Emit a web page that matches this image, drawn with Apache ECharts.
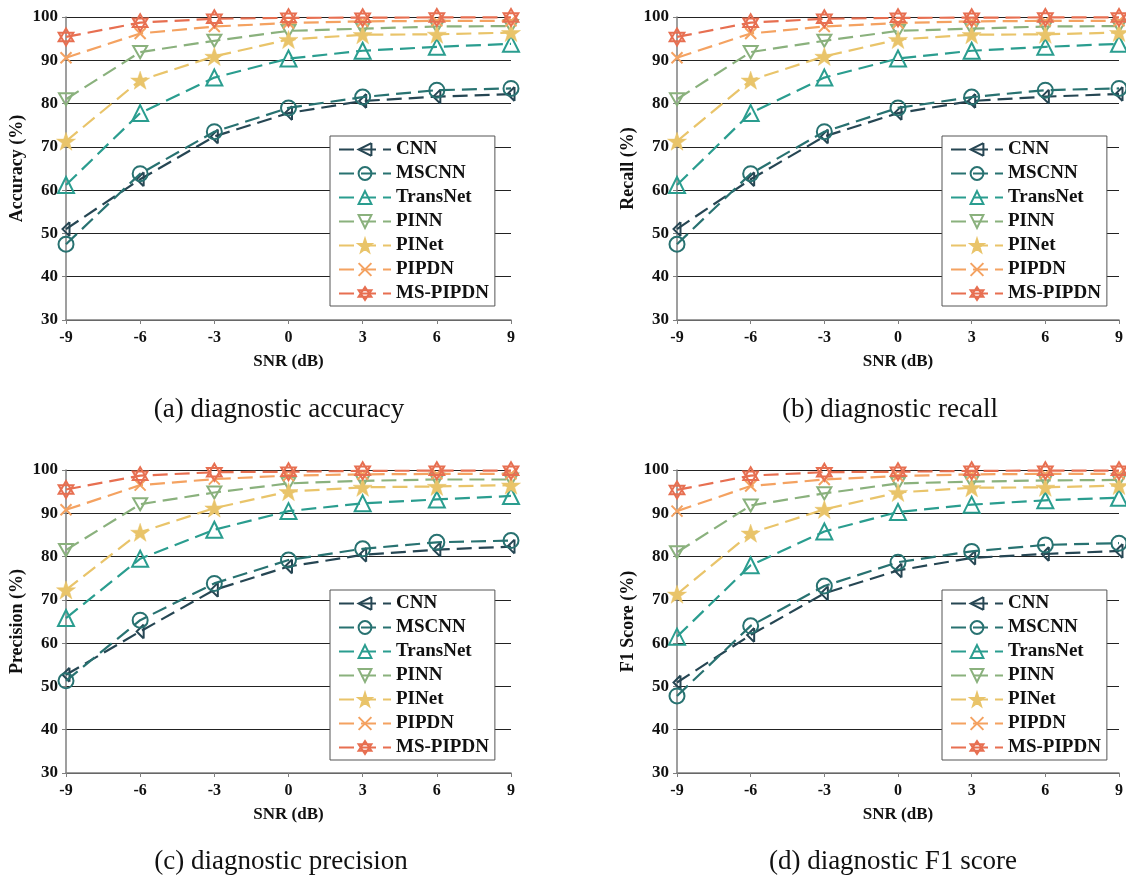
<!DOCTYPE html>
<html>
<head>
<meta charset="utf-8">
<script src="https://cdn.jsdelivr.net/npm/echarts@6/dist/echarts.min.js"></script>
<style>
  html, body { margin: 0; padding: 0; background: #fff; }
  #chart { width: 1126px; height: 879px; }
</style>
</head>
<body>
<div id="chart"></div>
<script>
// SNR levels (dB) on the x axis
const snrLevels = [-9, -6, -3, 0, 3, 6, 9];
const yTicks = [30, 40, 50, 60, 70, 80, 90, 100];
const modelNames = ['CNN', 'MSCNN', 'TransNet', 'PINN', 'PINet', 'PIPDN', 'MS-PIPDN'];
const modelColors = ['#264653', '#287271', '#2a9d8f', '#8ab17d', '#e9c46a', '#f4a261', '#e76f51'];

// Metric values (%) per model, ordered as modelNames, one entry per SNR level
const accuracy = [
  [51.0, 62.5, 72.4, 77.8, 80.6, 81.6, 82.2],
  [47.5, 63.8, 73.5, 79.0, 81.5, 83.1, 83.5],
  [61.2, 77.8, 86.0, 90.4, 92.2, 93.1, 93.8],
  [81.0, 91.9, 94.5, 96.8, 97.3, 97.8, 97.9],
  [71.3, 85.4, 90.9, 94.8, 95.9, 96.0, 96.4],
  [90.6, 96.2, 97.8, 98.6, 99.0, 99.1, 99.1],
  [95.4, 98.7, 99.6, 99.8, 99.85, 99.9, 99.9]
];
const recall = [
  [51.0, 62.5, 72.4, 77.8, 80.6, 81.6, 82.2],
  [47.5, 63.8, 73.5, 79.0, 81.5, 83.1, 83.5],
  [61.2, 77.8, 86.0, 90.4, 92.2, 93.1, 93.8],
  [81.0, 91.9, 94.5, 96.8, 97.3, 97.8, 97.9],
  [71.3, 85.4, 90.9, 94.8, 95.9, 96.0, 96.4],
  [90.6, 96.2, 97.8, 98.6, 99.0, 99.1, 99.1],
  [95.4, 98.7, 99.6, 99.8, 99.85, 99.9, 99.9]
];
const precision = [
  [52.7, 62.7, 72.3, 77.7, 80.4, 81.6, 82.3],
  [51.3, 65.3, 73.8, 79.2, 81.8, 83.3, 83.7],
  [65.8, 79.5, 86.2, 90.5, 92.3, 93.2, 94.0],
  [81.5, 92.1, 94.8, 96.9, 97.5, 97.8, 97.8],
  [72.3, 85.6, 91.2, 95.0, 96.0, 96.2, 96.5],
  [90.8, 96.5, 97.9, 98.7, 99.0, 99.1, 99.1],
  [95.5, 98.7, 99.5, 99.6, 99.8, 99.85, 99.85]
];
const f1Score = [
  [50.9, 61.9, 71.5, 76.8, 79.7, 80.6, 81.3],
  [47.8, 64.0, 73.2, 78.7, 81.2, 82.7, 83.1],
  [61.5, 78.0, 85.8, 90.3, 92.0, 93.0, 93.6],
  [81.0, 91.8, 94.6, 96.9, 97.3, 97.6, 97.7],
  [71.3, 85.4, 90.9, 94.8, 95.9, 96.0, 96.4],
  [90.5, 96.3, 97.8, 98.6, 99.0, 99.1, 99.1],
  [95.4, 98.7, 99.5, 99.6, 99.8, 99.85, 99.85]
];

const panelMetrics = [accuracy, recall, precision, f1Score];
const panelYNames = ['Accuracy (%)', 'Recall (%)', 'Precision (%)', 'F1 Score (%)'];
const panelCaptions = ['(a) diagnostic accuracy', '(b) diagnostic recall', '(c) diagnostic precision', '(d) diagnostic F1 score'];

// Marker glyphs per model
const modelSymbols = [
  'path://M7,0 L1,6 L7,12 M7,0 L7,12',
  'circle',
  'triangle',
  'path://M0,0 L12,0 L6,10.4 Z',
  'path://M12,0 L14.8,8.3 L23.4,8.3 L16.5,13.4 L19.1,21.7 L12,16.6 L4.9,21.7 L7.5,13.4 L0.6,8.3 L9.2,8.3 Z',
  'path://M0,0 L10,10 M10,0 L0,10',
  'path://M10,0 L18.66,15 L1.34,15 Z M10,20 L18.66,5 L1.34,5 Z'
];
const modelSymbolSizes = [14, 15, 16, 14, 19, 11, 17];
const filledSymbol = [false, false, false, false, true, false, false];

const FONT = '"Liberation Serif", "Times New Roman", serif';

// Panel geometry
const panels = [
  { left: 66, top: 17, width: 445, height: 303, legendLeft: 330, legendTop: 136, capX: 279, capY: 410 },
  { left: 677, top: 17, width: 443, height: 303, legendLeft: 942, legendTop: 136, capX: 890, capY: 410 },
  { left: 66, top: 470, width: 445, height: 303, legendLeft: 330, legendTop: 590, capX: 281, capY: 862 },
  { left: 677, top: 470, width: 443, height: 303, legendLeft: 942, legendTop: 590, capX: 893, capY: 862 }
];

const grid = [], xAxis = [], yAxis = [], legend = [], series = [], graphic = [];

panels.forEach((p, i) => {
  grid.push({ left: p.left, top: p.top, width: p.width, height: p.height, containLabel: false });
  xAxis.push({
    type: 'value', gridIndex: i, min: snrLevels[0], max: snrLevels[snrLevels.length - 1], interval: 3,
    name: 'SNR (dB)', nameLocation: 'middle', nameGap: 33,
    nameTextStyle: { fontFamily: FONT, fontWeight: 'bold', fontSize: 17, color: '#111' },
    axisLine: { onZero: false, lineStyle: { color: '#7f7f7f', width: 1.5 } },
    axisTick: { show: true, length: 4, lineStyle: { color: '#7f7f7f' } },
    axisLabel: { fontFamily: FONT, fontWeight: 'bold', fontSize: 16, color: '#111', margin: 10 },
    splitLine: { show: false }
  });
  yAxis.push({
    type: 'value', gridIndex: i, min: yTicks[0], max: yTicks[yTicks.length - 1], interval: 10,
    name: panelYNames[i], nameLocation: 'middle', nameGap: 40, nameRotate: 90,
    nameTextStyle: { fontFamily: FONT, fontWeight: 'bold', fontSize: 18, color: '#111' },
    axisLine: { show: true, onZero: false, lineStyle: { color: '#7f7f7f', width: 1.5 } },
    axisTick: { show: true, length: 4, lineStyle: { color: '#7f7f7f' } },
    axisLabel: { fontFamily: FONT, fontWeight: 'bold', fontSize: 17, color: '#111', margin: 8 },
    splitLine: { show: true, lineStyle: { color: '#222', width: 1 } }
  });
  legend.push({
    left: p.legendLeft, top: p.legendTop, orient: 'vertical',
    data: modelNames,
    itemWidth: 52, itemHeight: 16, itemGap: 5,
    padding: [4, 6, 3, 8],
    backgroundColor: '#fff', borderColor: '#555', borderWidth: 1, borderRadius: 0,
    textStyle: { fontFamily: FONT, fontWeight: 'bold', fontSize: 19, color: '#111' },
    selectedMode: false
  });
  panelMetrics[i].forEach((vals, m) => {
    const c = modelColors[m];
    series.push({
      type: 'line', name: modelNames[m], xAxisIndex: i, yAxisIndex: i,
      data: snrLevels.map((x, k) => [x, vals[k]]),
      symbol: modelSymbols[m], symbolSize: modelSymbolSizes[m], symbolKeepAspect: true,
      showAllSymbol: true, clip: false,
      color: c,
      lineStyle: { color: c, width: 2.2, type: [15, 7] },
      itemStyle: { color: filledSymbol[m] ? c : 'rgba(255,255,255,0)', borderColor: c, borderWidth: filledSymbol[m] ? 0.5 : 2 },
      emphasis: { disabled: true },
      z: 3 + m
    });
  });
  graphic.push({
    type: 'text', x: p.capX, y: p.capY,
    style: { text: panelCaptions[i], font: '27px ' + FONT, fill: '#111', textAlign: 'center', textVerticalAlign: 'middle' }
  });
});

const chart = echarts.init(document.getElementById('chart'), null, { renderer: 'canvas' });
chart.setOption({
  animation: false,
  backgroundColor: '#fff',
  grid, xAxis, yAxis, legend, series, graphic
});
</script>
</body>
</html>
